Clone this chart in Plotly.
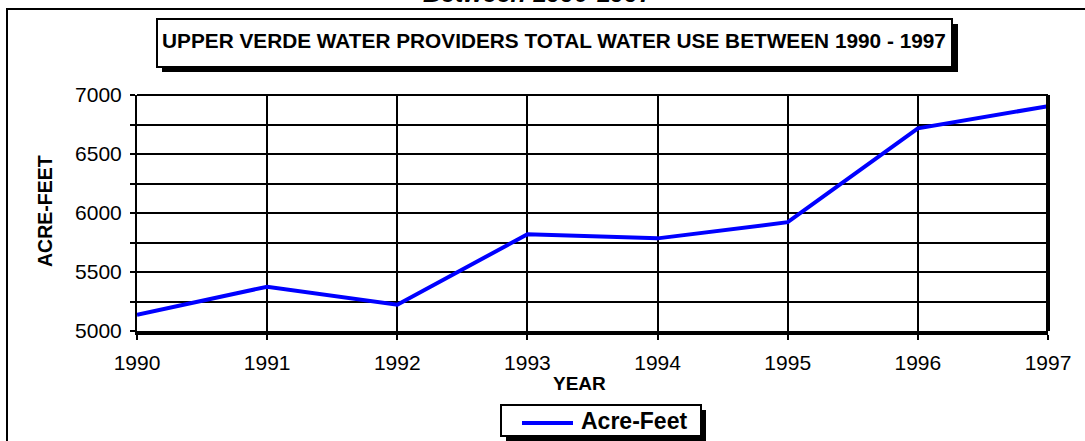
import plotly.graph_objects as go

years = [1990, 1991, 1992, 1993, 1994, 1995, 1996, 1997]
acre_feet = [5138, 5375, 5222, 5820, 5785, 5922, 6718, 6905]
y_ticks = [5000, 5500, 6000, 6500, 7000]
series_name = "Acre-Feet"
chart_title = "UPPER VERDE WATER PROVIDERS TOTAL WATER USE BETWEEN 1990 - 1997"
cut_title = "Between 1990-1997"

W, H = 1085, 441
L, R, T, B = 137, 37, 95, 110
PW, PH = W - L - R, H - T - B

def px(x):
    return (x - L) / PW

def py(y):
    return (H - B - y) / PH

FONT = "Liberation Sans, Arial, sans-serif"
LINE_COLOR = "#0000FF"

fig = go.Figure()
fig.add_trace(go.Scatter(x=years, y=acre_feet, mode="lines", name=series_name,
                         line=dict(color=LINE_COLOR, width=4), showlegend=False))

shapes = [
    # outer frame
    dict(type="rect", xref="paper", yref="paper", x0=px(7), x1=px(1100), y0=py(9), y1=py(460),
         line=dict(color="black", width=2), fillcolor="rgba(0,0,0,0)", layer="below"),
    # title shadow
    dict(type="rect", xref="paper", yref="paper", x0=px(162), x1=px(958), y0=py(24), y1=py(72),
         line=dict(width=0), fillcolor="black", layer="below"),
    # title box
    dict(type="rect", xref="paper", yref="paper", x0=px(157), x1=px(952), y0=py(19), y1=py(67),
         line=dict(color="black", width=2), fillcolor="white", layer="below"),
    # legend shadow
    dict(type="rect", xref="paper", yref="paper", x0=px(506), x1=px(706), y0=py(410), y1=py(441),
         line=dict(width=0), fillcolor="black", layer="below"),
    # legend box
    dict(type="rect", xref="paper", yref="paper", x0=px(501), x1=px(701), y0=py(405), y1=py(436),
         line=dict(color="black", width=2), fillcolor="white", layer="below"),
    # legend key line
    dict(type="line", xref="paper", yref="paper", x0=px(522), x1=px(573), y0=py(423), y1=py(423),
         line=dict(color=LINE_COLOR, width=4)),
    # thick right edge
    dict(type="line", xref="paper", yref="paper", x0=1, x1=1, y0=0, y1=1,
         line=dict(color="black", width=4)),
    # top edge
    dict(type="line", xref="paper", yref="paper", x0=0, x1=1, y0=1, y1=1,
         line=dict(color="black", width=2)),
]

annotations = [
    dict(text="<b>" + chart_title + "</b>", xref="paper", yref="paper", x=px(554), y=py(41),
         xanchor="center", yanchor="middle", showarrow=False,
         font=dict(family=FONT, size=20.8, color="black")),
    dict(text="<b><i>" + cut_title + "</i></b>", xref="paper", yref="paper", x=px(538), y=py(9),
         xanchor="center", yanchor="bottom", showarrow=False,
         font=dict(family=FONT, size=25, color="black")),
    dict(text="<b>YEAR</b>", xref="paper", yref="paper", x=px(579), y=py(383),
         xanchor="center", yanchor="middle", showarrow=False,
         font=dict(family=FONT, size=19, color="black")),
    dict(text="<b>ACRE-FEET</b>", xref="paper", yref="paper", x=px(45), y=py(211),
         xanchor="center", yanchor="middle", showarrow=False, textangle=-90,
         font=dict(family=FONT, size=19.5, color="black")),
    dict(text="<b>" + series_name + "</b>", xref="paper", yref="paper", x=px(579), y=py(421),
         xanchor="left", yanchor="middle", showarrow=False,
         font=dict(family=FONT, size=23, color="black")),
]

fig.update_layout(
    width=W, height=H,
    margin=dict(l=L, r=R, t=T, b=B, pad=0),
    paper_bgcolor="white", plot_bgcolor="white",
    font=dict(family=FONT, color="black"),
    shapes=shapes, annotations=annotations,
    showlegend=False,
)

fig.update_xaxes(range=[1990, 1997], tickvals=years, ticktext=[str(y) for y in years],
                 showgrid=True, gridcolor="black", gridwidth=2,
                 showline=True, linecolor="black", linewidth=4,
                 ticks="outside", ticklen=5, tickwidth=2, tickcolor="black",
                 tickfont=dict(family=FONT, size=21, color="black"), zeroline=False,
                 ticklabelstandoff=5, fixedrange=True)
fig.update_yaxes(range=[5000, 7000], tickvals=y_ticks,
                 showgrid=True, gridcolor="black", gridwidth=2,
                 showline=True, linecolor="black", linewidth=2,
                 ticks="outside", ticklen=5, tickwidth=2, tickcolor="black",
                 minor=dict(dtick=250, tick0=5000, showgrid=True, gridcolor="black", gridwidth=2,
                            ticks="outside", ticklen=5, tickwidth=2, tickcolor="black"),
                 tickfont=dict(family=FONT, size=21, color="black"), zeroline=False,
                 ticklabelstandoff=4, fixedrange=True)

fig.write_html("out.html", config={"displayModeBar": False},
               post_script="document.body.style.margin='0';document.body.style.overflow='hidden';")
